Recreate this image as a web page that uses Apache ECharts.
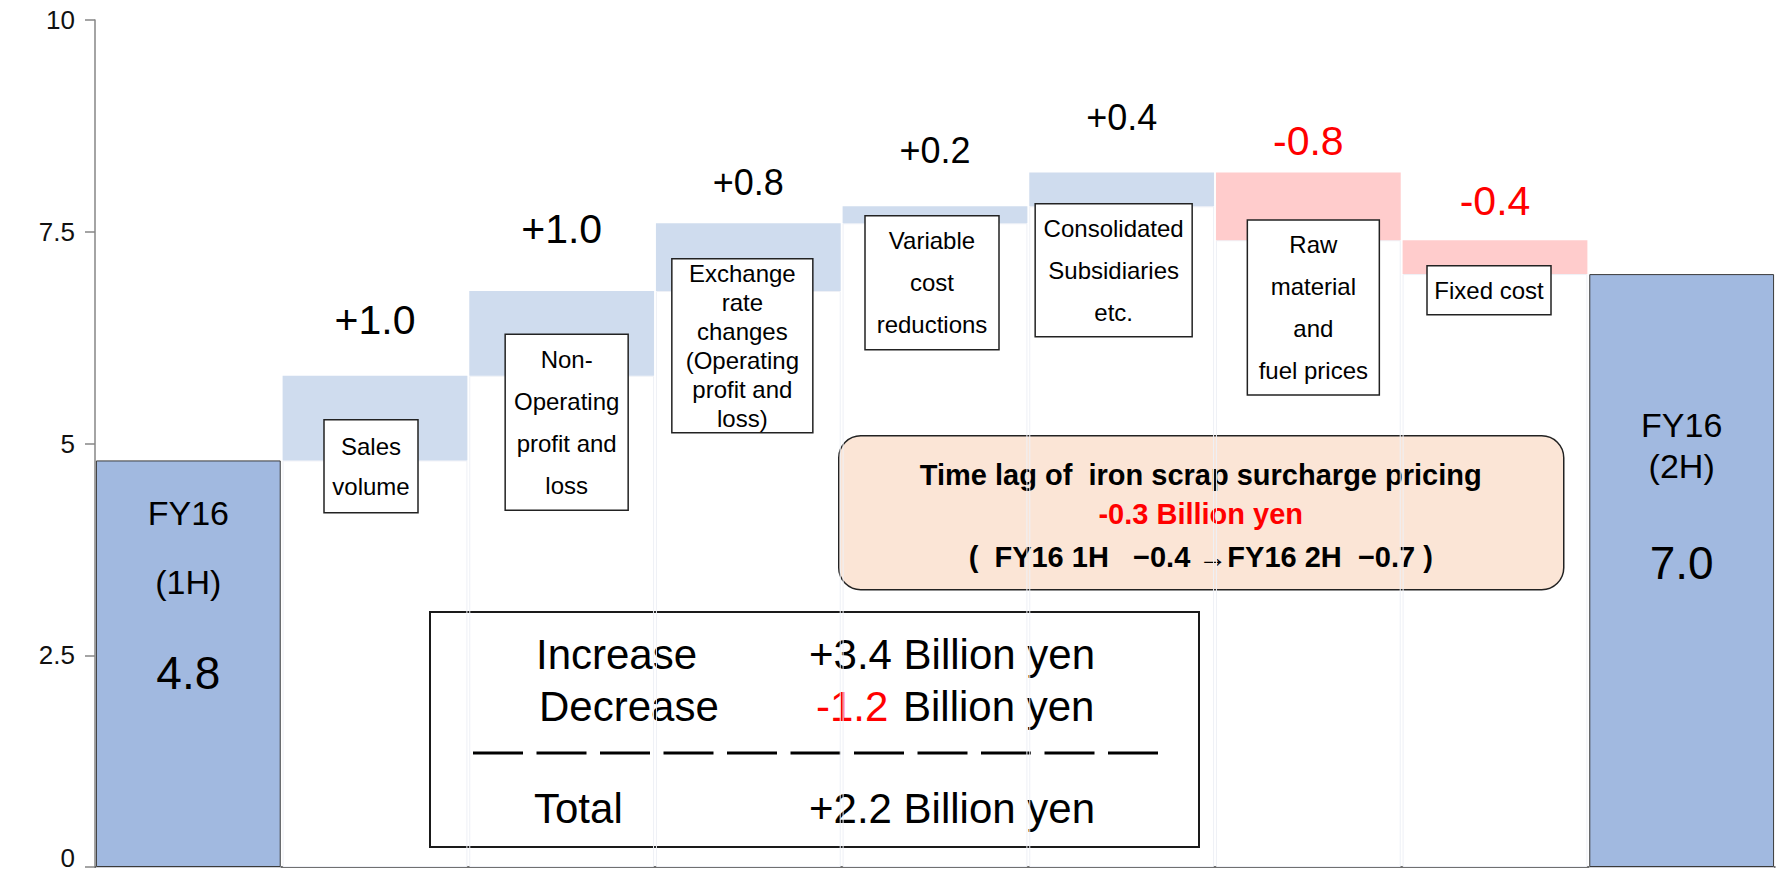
<!DOCTYPE html>
<html>
<head>
<meta charset="utf-8">
<title>FY16 1H to 2H change</title>
<script src="https://cdn.jsdelivr.net/npm/echarts@6/dist/echarts.min.js"></script>
<style>
  html, body { margin: 0; padding: 0; background: #fff; }
  #chart { width: 1777px; height: 875px; }
</style>
</head>
<body>
<div id="chart"></div>
<script>
// values
const categories = ['FY16 (1H)', 'Sales volume', 'Non-Operating profit and loss',
  'Exchange rate changes (Operating profit and loss)', 'Variable cost reductions',
  'Consolidated Subsidiaries etc.', 'Raw material and fuel prices', 'Fixed cost', 'FY16 (2H)'];
const startValue = 4.8;
const endValue = 7.0;
const changes = [1.0, 1.0, 0.8, 0.2, 0.4, -0.8, -0.4];
const boxLabels = ['Sales\nvolume', 'Non-\nOperating\nprofit and\nloss',
  'Exchange\nrate\nchanges\n(Operating\nprofit and\nloss)', 'Variable\ncost\nreductions',
  'Consolidated\nSubsidiaries\netc.', 'Raw\nmaterial\nand\nfuel prices', 'Fixed cost'];
const yTicks = [0, 2.5, 5, 7.5, 10];
const timeLagLines = ['Time lag of  iron scrap surcharge pricing', '-0.3 Billion yen',
  '(  FY16 1H   \u22120.4 \u2192FY16 2H  \u22120.7 )'];

// layout / style (kept apart from the data)
const FONT = '"Liberation Sans", Arial, sans-serif';
const RED = '#ff0000';
const labelGap = [35, 42, 23, 38, 37, 11, 19];
const labelSize = [41, 41, 36, 36, 36, 41, 41];
const boxTop = [5.28, 6.29, 7.18, 7.69, 7.83, 7.64, 7.10];   // in axis units
const boxSize = [[94, 93], [123, 176], [141, 174], [134, 134], [157, 133], [132, 175], [124, 49]];
const boxShift = [-4, 5, -6, -3, -8, 5, -6];
const boxLineHeight = [40, 42, 29, 42, 42, 42, 30];

// waterfall pieces
const baseData = [0], upData = ['-'], downData = ['-'], totalData = [startValue];
let level = startValue;
changes.forEach(function (c, i) {
  const next = Math.round((level + c) * 10) / 10;
  baseData.push(Math.min(level, next));
  const item = {
    value: Math.abs(c),
    label: { distance: labelGap[i], fontSize: labelSize[i] }
  };
  upData.push(c > 0 ? item : '-');
  downData.push(c < 0 ? item : '-');
  totalData.push('-');
  level = next;
});
baseData.push(0); upData.push('-'); downData.push('-'); totalData.push(endValue);

totalData[0] = {
  value: startValue,
  label: {
    position: ['50%', 18],
    formatter: '{a|FY16}\n{a|(1H)}\n{v|' + startValue.toFixed(1) + '}',
    rich: {
      a: { fontSize: 34, lineHeight: 69, fontFamily: FONT, color: '#000' },
      v: { fontSize: 46, lineHeight: 113, fontFamily: FONT, color: '#000' }
    }
  }
};
totalData[8] = {
  value: endValue,
  label: {
    position: ['50%', 130],
    formatter: '{a|FY16}\n{a|(2H)}\n{v|' + endValue.toFixed(1) + '}',
    rich: {
      a: { fontSize: 34, lineHeight: 41, fontFamily: FONT, color: '#000' },
      v: { fontSize: 46, lineHeight: 153, fontFamily: FONT, color: '#000' }
    }
  }
};

const incSum = changes.filter(c => c > 0).reduce((a, b) => a + b, 0);
const decSum = changes.filter(c => c < 0).reduce((a, b) => a + b, 0);
const netSum = incSum + decSum;
const signed = v => (v >= 0 ? '+' : '-') + Math.abs(v).toFixed(1);

const chart = echarts.init(document.getElementById('chart'), null, { renderer: 'svg' });

const option = {
  animation: false,
  grid: { left: 95, right: 2, top: 20, bottom: 8 },
  xAxis: {
    type: 'category',
    data: categories,
    axisLine: { lineStyle: { color: '#404040', width: 1.5 } },
    axisTick: { show: false },
    axisLabel: { show: false }
  },
  yAxis: {
    type: 'value',
    min: yTicks[0],
    max: yTicks[yTicks.length - 1],
    interval: yTicks[1] - yTicks[0],
    splitLine: { show: false },
    axisLine: { show: true, lineStyle: { color: '#868686', width: 1.5 } },
    axisTick: { show: true, length: 10, lineStyle: { color: '#868686', width: 1.5 } },
    axisLabel: {
      fontSize: 26,
      color: '#111',
      fontFamily: FONT,
      margin: 20,
      // the bottom label sits on the page edge; lift it a little so it stays whole
      formatter: v => (v === yTicks[0] ? '{z|' + v + '}' : String(v)),
      rich: { z: { fontSize: 26, fontFamily: FONT, color: '#111', padding: [0, 0, 18, 0] } }
    }
  },
  series: [
    {
      name: 'base',
      type: 'bar',
      stack: 'wf',
      barCategoryGap: '1%',
      silent: true,
      itemStyle: { color: 'rgba(0,0,0,0)', borderColor: '#eef0f6', borderWidth: 1 },
      data: baseData
    },
    {
      name: 'increase',
      type: 'bar',
      stack: 'wf',
      silent: true,
      itemStyle: { color: '#cfdcee' },
      label: {
        show: true,
        position: 'top',
        color: '#000',
        fontFamily: FONT,
        formatter: p => '+' + p.value.toFixed(1)
      },
      data: upData
    },
    {
      name: 'decrease',
      type: 'bar',
      stack: 'wf',
      silent: true,
      itemStyle: { color: '#ffcccc' },
      label: {
        show: true,
        position: 'top',
        color: RED,
        fontFamily: FONT,
        formatter: p => '-' + p.value.toFixed(1)
      },
      data: downData
    },
    {
      name: 'total',
      type: 'bar',
      stack: 'wf',
      silent: true,
      itemStyle: { color: '#a1b9e0', borderColor: '#3a3a3a', borderWidth: 1 },
      label: { show: true, align: 'center', verticalAlign: 'top' },
      data: totalData
    },
    {
      name: 'factors',
      type: 'custom',
      silent: true,
      z: 5,
      encode: { x: 0, y: 1 },
      data: boxLabels.map((t, i) => [i + 1, boxTop[i]]),
      renderItem: function (params, api) {
        const i = params.dataIndex;
        const p = api.coord([api.value(0), api.value(1)]);
        const w = boxSize[i][0], h = boxSize[i][1];
        const x = p[0] + boxShift[i] - w / 2;
        return {
          type: 'group',
          children: [
            {
              type: 'rect',
              shape: { x: x, y: p[1], width: w, height: h },
              style: { fill: '#fff', stroke: '#222', lineWidth: 1.5 }
            },
            {
              type: 'text',
              x: x + w / 2,
              y: p[1] + h / 2,
              style: {
                text: boxLabels[i],
                fontSize: 24,
                fontFamily: FONT,
                lineHeight: boxLineHeight[i],
                fill: '#000',
                align: 'center',
                verticalAlign: 'middle'
              }
            }
          ]
        };
      }
    }
  ],
  graphic: [
    {
      type: 'group',
      left: 838,
      top: 435,
      z: 10,
      children: [
        {
          type: 'rect',
          shape: { x: 0, y: 0, width: 725, height: 154, r: 22 },
          style: { fill: '#fbe5d6', stroke: '#222', lineWidth: 1.5 }
        },
        { type: 'text', x: 362, y: 39, style: { text: timeLagLines[0], fontSize: 29, fontWeight: 'bold', fontFamily: FONT, fill: '#000', align: 'center', verticalAlign: 'middle' } },
        { type: 'text', x: 362, y: 78, style: { text: timeLagLines[1], fontSize: 29, fontWeight: 'bold', fontFamily: FONT, fill: RED, align: 'center', verticalAlign: 'middle' } },
        { type: 'text', x: 362, y: 121, style: { text: timeLagLines[2], fontSize: 29, fontWeight: 'bold', fontFamily: FONT, fill: '#000', align: 'center', verticalAlign: 'middle' } }
      ]
    },
    {
      type: 'group',
      left: 429,
      top: 611,
      z: 10,
      children: [
        {
          type: 'rect',
          shape: { x: 0, y: 0, width: 769, height: 235 },
          style: { fill: '#fff', stroke: '#1a1a1a', lineWidth: 2 }
        },
        { type: 'text', x: 106, y: 42, style: { text: 'Increase', fontSize: 42, fontFamily: FONT, fill: '#000', verticalAlign: 'middle' } },
        { type: 'text', x: 379, y: 42, style: { text: signed(incSum) + ' Billion yen', fontSize: 42, fontFamily: FONT, fill: '#000', verticalAlign: 'middle' } },
        { type: 'text', x: 109, y: 94, style: { text: 'Decrease', fontSize: 42, fontFamily: FONT, fill: '#000', verticalAlign: 'middle' } },
        { type: 'text', x: 386, y: 94, style: { text: signed(decSum), fontSize: 42, fontFamily: FONT, fill: RED, verticalAlign: 'middle' } },
        { type: 'text', x: 473, y: 94, style: { text: 'Billion yen', fontSize: 42, fontFamily: FONT, fill: '#000', verticalAlign: 'middle' } },
        {
          type: 'line',
          shape: { x1: 43, y1: 141, x2: 728, y2: 141 },
          style: { stroke: '#000', lineWidth: 3, lineDash: [50, 13.5] }
        },
        { type: 'text', x: 104, y: 196, style: { text: 'Total', fontSize: 42, fontFamily: FONT, fill: '#000', verticalAlign: 'middle' } },
        { type: 'text', x: 379, y: 196, style: { text: signed(netSum) + ' Billion yen', fontSize: 42, fontFamily: FONT, fill: '#000', verticalAlign: 'middle' } }
      ]
    }
  ]
};

chart.setOption(option);
</script>
</body>
</html>
